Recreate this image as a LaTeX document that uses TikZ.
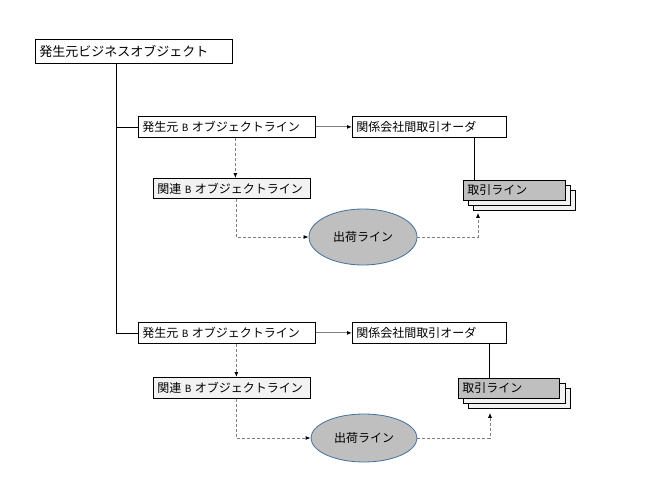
\documentclass[tikz,border=0pt]{standalone}
\usepackage{fontspec}
\setmainfont{Noto Sans CJK JP}
\usetikzlibrary{arrows.meta,shapes.geometric}
\definecolor{lgray}{HTML}{F2F2F2}
\definecolor{mgray}{HTML}{BFBFBF}
\definecolor{lgrayline}{HTML}{7F7F7F}
\definecolor{eblue}{HTML}{41719C}
\newcommand{\bsp}{\hspace{3.5pt}}
\newcommand{\smB}{{\fontsize{10}{12}\selectfont B}}
\begin{document}
\begin{tikzpicture}[x=1pt,y=-1pt,
  font=\fontsize{12}{14}\selectfont,
  bx/.style={draw=black, line width=0.8pt, rectangle, anchor=north west, inner xsep=4pt, inner ysep=0pt, align=left, fill=white},
  stk/.style={draw=black, line width=0.8pt, rectangle, anchor=north west, minimum width=102pt, minimum height=20pt, inner sep=0pt},
  ell/.style={ellipse, draw=eblue, line width=0.8pt, fill=mgray, inner sep=0pt},
  sarr/.style={draw=lgrayline, line width=1pt, -{Latex[color=black,length=5pt,width=4pt]}},
  darr/.style={draw=lgrayline, line width=0.9pt, dash pattern=on 3pt off 2pt, -{Latex[color=black,length=5pt,width=4pt]}},
  plain/.style={draw=black, line width=0.8pt}
]
\useasboundingbox (0,0) rectangle (659,498);

% top object
\node[bx, text width=189pt, minimum height=24pt, font=\fontsize{13}{15}\selectfont] (top) at (35,39) {発生元ビジネスオブジェクト};
\coordinate (trunk) at (116,0);

% ---------- group 1 ----------
\node[bx, text width=169pt, minimum height=21pt] (A1) at (138,116) {\mbox{発生元\bsp\smB\bsp オブジェクトライン}};
\node[bx, text width=146pt, minimum height=21pt] (C1) at (352,116) {関係会社間取引オーダ};
\node[bx, fill=lgray, text width=149pt, minimum height=20pt] (B1) at (153,178) {\mbox{関連\bsp\smB\bsp オブジェクトライン}};
\node[ell, minimum width=108pt, minimum height=56pt] (E1) at (363,237) {出荷ライン};
\node[stk, fill=lgray] (S1c) at (473,190) {};
\node[stk, fill=lgray] (S1b) at (468,185) {};
\node[bx, fill=mgray, text width=94pt, minimum height=20pt] (S1) at (463,180) {取引ライン};

% ---------- group 2 ----------
\node[bx, text width=169pt, minimum height=21pt] (A2) at (138,322) {\mbox{発生元\bsp\smB\bsp オブジェクトライン}};
\node[bx, text width=146pt, minimum height=21pt] (C2) at (352,322) {関係会社間取引オーダ};
\node[bx, fill=lgray, text width=149pt, minimum height=21pt] (B2) at (153,377) {\mbox{関連\bsp\smB\bsp オブジェクトライン}};
\node[ell, minimum width=106pt, minimum height=48pt] (E2) at (364,438) {出荷ライン};
\node[stk, fill=lgray] (S2c) at (468,388) {};
\node[stk, fill=lgray] (S2b) at (463,383) {};
\node[bx, fill=mgray, text width=93pt, minimum height=20pt] (S2) at (458,378) {取引ライン};

% trunk
\draw[plain] (top.south -| trunk) |- (A1.west);
\draw[plain] (top.south -| trunk) |- (A2.west);

% group 1 connectors
\draw[sarr] (A1.east) -- (C1.west);
\path ([xshift=45pt]C1.south) coordinate (c1d);
\draw[plain] (c1d) -- (c1d |- S1.north);
\path ([xshift=8.5pt]A1.south) coordinate (a1d);
\draw[darr] (a1d) -- (a1d |- B1.north);
\path ([xshift=4.5pt]B1.south) coordinate (b1d);
\draw[darr] (b1d) |- (E1.west);
\path ([xshift=5pt,yshift=-2pt]S1c.south west) coordinate (s1t);
\draw[darr] (E1.east) -| (s1t);

% group 2 connectors
\draw[sarr] (A2.east) -- (C2.west);
\path ([xshift=60pt]C2.south) coordinate (c2d);
\draw[plain] (c2d) -- (c2d |- S2.north);
\path ([xshift=9.5pt]A2.south) coordinate (a2d);
\draw[darr] (a2d) -- (a2d |- B2.north);
\path ([xshift=4.5pt]B2.south) coordinate (b2d);
\draw[darr] (b2d) |- (E2.west);
\path ([xshift=22pt,yshift=-4pt]S2c.south west) coordinate (s2t);
\draw[darr] (E2.east) -| (s2t);
\end{tikzpicture}
\end{document}
